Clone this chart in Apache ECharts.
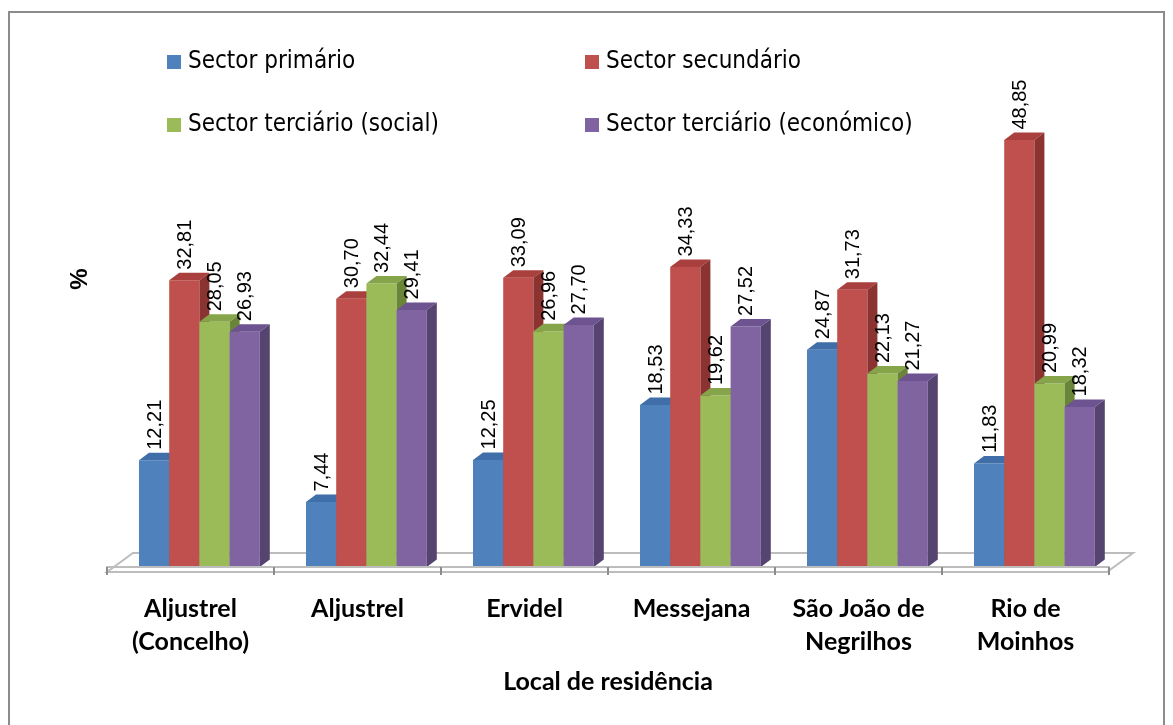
<!DOCTYPE html>
<html>
<head>
<meta charset="utf-8">
<script src="https://cdn.jsdelivr.net/npm/echarts@6/dist/echarts.min.js"></script>
<style>
  html, body { margin: 0; padding: 0; background: #fff; }
  #chart { width: 1173px; height: 725px; }
</style>
</head>
<body>
<div id="chart"></div>
<script>
// dados
var categories = ['Aljustrel\n(Concelho)', 'Aljustrel', 'Ervidel', 'Messejana', 'São João de\nNegrilhos', 'Rio de\nMoinhos'];
var seriesNames = ['Sector primário', 'Sector secundário', 'Sector terciário (social)', 'Sector terciário (económico)'];
var primario = [12.21, 7.44, 12.25, 18.53, 24.87, 11.83];
var secundario = [32.81, 30.70, 33.09, 34.33, 31.73, 48.85];
var tercSocial = [28.05, 32.44, 26.96, 19.62, 22.13, 20.99];
var tercEconomico = [26.93, 29.41, 27.70, 27.52, 21.27, 18.32];

var colors = ['#4f81bd', '#c0504d', '#9bbb59', '#8064a2'];
var tops = ['#3f6ea8', '#a9403d', '#86a54a', '#6d5390'];
var sides = ['#2f5483', '#8a3331', '#6b8538', '#564470'];

var BAR_W = 30.2;      // largura de cada barra
var GROUP_OFF = 32;    // deslocamento do grupo dentro da categoria
var DX = 10, DY = 7.5; // profundidade 3D

var fmt = function (v) { return v.toFixed(2).replace('.', ','); };

function barRenderer(si) {
    return function (params, api) {
        var idx = api.value(0), val = api.value(1);
        var base = api.coord([idx, 0]);
        var top = api.coord([idx, val]);
        var band = api.size([1, 0])[0];
        var x0 = base[0] - band / 2 + GROUP_OFF + si * BAR_W;
        var x1 = x0 + BAR_W;
        var y0 = base[1], y1 = top[1];
        return {
            type: 'group',
            children: [{
                type: 'rect',
                shape: { x: x0, y: y1, width: BAR_W, height: y0 - y1 },
                style: { fill: colors[si] }
            }, {
                type: 'polygon',
                shape: { points: [[x0, y1], [x0 + DX, y1 - DY], [x1 + DX, y1 - DY], [x1, y1]] },
                style: { fill: tops[si] }
            }, {
                type: 'polygon',
                shape: { points: [[x1, y1], [x1 + DX, y1 - DY], [x1 + DX, y0 - DY], [x1, y0]] },
                style: { fill: sides[si] }
            }, {
                type: 'text',
                z2: 100,
                x: (x0 + x1) / 2 + 1,
                y: y1 - DY - 3,
                rotation: Math.PI / 2,
                style: {
                    text: fmt(val),
                    fill: '#000',
                    font: '20px "Liberation Sans", Arial, sans-serif',
                    align: 'left',
                    verticalAlign: 'middle'
                }
            }]
        };
    };
}

function floorRenderer(params, api) {
    var cs = params.coordSys;
    var y0 = api.coord([0, 0])[1];
    var fy = y0 + 5, by = y0 - 14;
    var lx = cs.x, rx = cs.x + cs.width - 2;
    return {
        type: 'polygon',
        shape: { points: [[lx, fy], [lx + 26, by], [rx + 26, by], [rx, fy]] },
        style: { fill: '#fff', stroke: '#bdbdbd', lineWidth: 2 }
    };
}

var seriesData = [primario, secundario, tercSocial, tercEconomico];

var chart = echarts.init(document.getElementById('chart'));
var legendPos = [[167, 50], [585, 50], [167, 113], [585, 113]];

var option = {
    animation: false,
    backgroundColor: '#fff',
    color: colors,
    grid: { left: 107, right: 64, top: 130, bottom: 158 },
    legend: seriesNames.map(function (n, i) {
        return {
            data: [n],
            left: legendPos[i][0],
            top: legendPos[i][1],
            padding: 0,
            itemWidth: 14,
            itemHeight: 14,
            icon: 'rect',
            selectedMode: false,
            textStyle: { fontFamily: '"DejaVu Sans Condensed", sans-serif', fontSize: 24, color: '#000', padding: [0, 0, 0, 2] }
        };
    }),
    xAxis: {
        type: 'category',
        data: categories,
        offset: 5,
        name: 'Local de residência',
        nameLocation: 'middle',
        nameGap: 97,
        nameTextStyle: { fontFamily: 'Lato, sans-serif', fontWeight: 'bold', fontSize: 25, color: '#000' },
        axisLine: { show: true, lineStyle: { color: '#bdbdbd', width: 2 } },
        axisTick: { show: true, length: 8, lineStyle: { color: '#8c8c8c', width: 2 } },
        axisLabel: {
            interval: 0,
            margin: 20,
            fontFamily: 'Lato, sans-serif',
            fontWeight: 'bold',
            fontSize: 25,
            lineHeight: 33,
            color: '#000'
        },
        z: 5
    },
    yAxis: {
        type: 'value',
        min: 0,
        max: 50,
        show: false
    },
    graphic: [{
        type: 'rect',
        shape: { x: 9, y: 12, width: 1155, height: 730 },
        style: { fill: 'none', stroke: '#8c8c8c', lineWidth: 2 },
        silent: true
    }, {
        type: 'text',
        x: 80,
        y: 279,
        rotation: Math.PI / 2,
        style: {
            text: '%',
            font: 'bold 24px "Liberation Sans", Arial, sans-serif',
            fill: '#000',
            align: 'center',
            verticalAlign: 'middle'
        }
    }],
    series: [{
        type: 'custom',
        name: 'floor',
        renderItem: floorRenderer,
        data: [[0, 0]],
        z: 1,
        silent: true
    }].concat(seriesNames.map(function (n, si) {
        return {
            type: 'custom',
            name: n,
            z: 2,
            renderItem: barRenderer(si),
            itemStyle: { color: colors[si] },
            data: seriesData[si].map(function (v, i) { return [i, v]; })
        };
    }))
};
chart.setOption(option);
window.addEventListener('resize', function () { chart.resize(); });
</script>
</body>
</html>
